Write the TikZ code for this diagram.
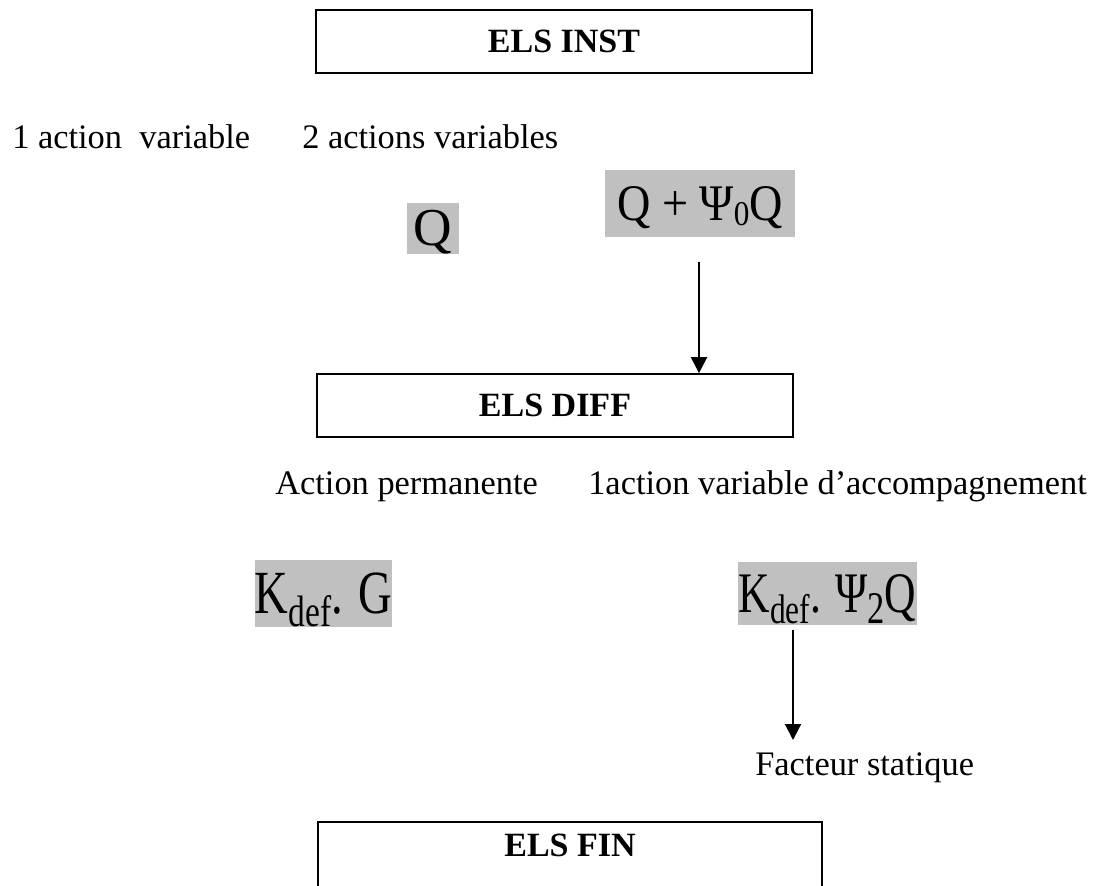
\documentclass[tikz,border=0pt]{standalone}
\usepackage{fontspec}
\setmainfont{Liberation Serif}
\usetikzlibrary{arrows.meta}
\definecolor{shade}{HTML}{C0C0C0}
\newcommand{\fsz}[1]{\fontsize{#1}{#1}\selectfont}
\begin{document}
\begin{tikzpicture}[x=0.75pt,y=-0.75pt,
  box/.style={draw, line width=1.3pt, font=\fsz{25.5pt}\bfseries, inner sep=0pt},
  lbl/.style={font=\fsz{25.8pt}, inner sep=0pt, anchor=base west},
  gbox/.style={fill=shade, inner sep=0pt, text depth=0pt},
  arr/.style={line width=1.5pt, -{Triangle[length=12pt,width=12pt]}}]
\useasboundingbox (0,0) rectangle (1094,885);
\node[box, minimum width=372pt, minimum height=47.25pt] (inst) at (564,41.5) {ELS INST};
\node[lbl] (one) at (12,148) {1 action\ \ variable};
\node[lbl] (two) at (302,148) {2 actions variables};
\node[gbox, minimum width=39pt, minimum height=38.25pt, text height=26pt] (q) at (433,228) {\fsz{40pt}Q};
\node[gbox, minimum width=142.5pt, minimum height=50.25pt, text height=25.5pt] (qpsi) at (700,203.5)
  {\fsz{38.5pt}\scalebox{0.9}[1]{Q + Ψ\raisebox{-0.1em}{\fsz{26pt}0}Q}};
\coordinate (a1s) at (699,262);
\node[box, minimum width=357pt, minimum height=47.25pt] (diff) at (555,405.5) {ELS DIFF};
\draw[arr] (a1s) -- (a1s |- diff.north);
\node[lbl] (perm) at (275,494) {Action permanente};
\node[lbl] (acc) at (588,494) {1action variable d’accompagnement};
\node[gbox, minimum width=102.75pt, minimum height=50.25pt, text height=30.5pt] (kg) at (323.5,593.5)
  {\fsz{46pt}\scalebox{0.76}[1]{K\raisebox{-0.2em}{\fsz{33pt}def}.\,\,G}};
\node[gbox, minimum width=134.25pt, minimum height=47.25pt, text height=28.5pt] (kq) at (827.5,593.5)
  {\fsz{43pt}\scalebox{0.76}[1]{K\raisebox{-0.2em}{\fsz{31pt}def}.\,\,Ψ\raisebox{-0.2em}{\fsz{34pt}2}Q}};
\coordinate (a2s) at (793,630);
\coordinate (a2e) at (793,740);
\draw[arr] (a2s) -- (a2e);
\node[lbl] (fact) at (755,775) {Facteur statique};
\node[box, anchor=north, minimum width=378pt, inner ysep=0pt, text height=26pt, text depth=60pt] (fin) at (570,821) {ELS FIN};
\end{tikzpicture}
\end{document}
